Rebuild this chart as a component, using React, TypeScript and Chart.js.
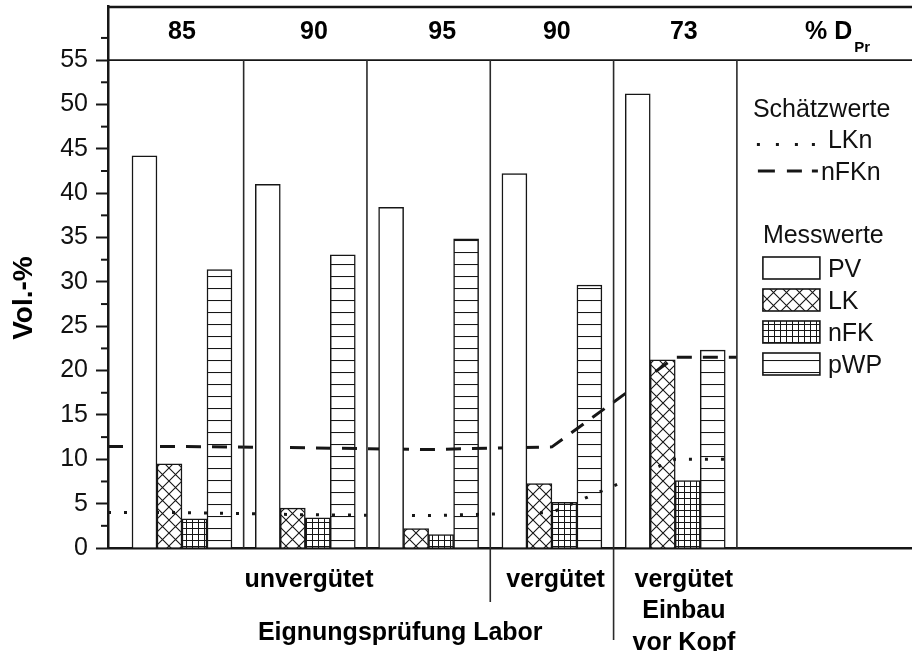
import React, { useEffect, useRef } from 'react';
import { Chart, registerables } from 'chart.js';

Chart.register(...registerables);

// ---------------- data ----------------
const groups = [1, 2, 3, 4, 5];
const headerLabels = ['85', '90', '95', '90', '73'];
const pvValues = [44.2, 41.0, 38.4, 42.2, 51.2];
const lkValues = [9.5, 4.5, 2.2, 7.25, 21.2];
const nfkValues = [3.3, 3.4, 1.5, 5.15, 7.6];
const pwpValues = [31.4, 33.05, 34.85, 29.65, 22.3];
const lineX = [0.4, 1, 2, 3, 4, 5, 5.5];
const lknValues = [4.0, 4.0, 3.75, 3.65, 4.0, 10.0, 10.0];
const nfknValues = [11.45, 11.45, 11.3, 11.1, 11.4, 21.5, 21.5];
const yTickLabels = [0, 5, 10, 15, 20, 25, 30, 35, 40, 45, 50, 55];
const separators = [1.5, 2.5, 3.5, 4.5, 5.5];

// ---------------- layout ----------------
const W = 912;
const H = 651;
const FONT = '"Liberation Sans", Arial, sans-serif';
const headerPos = [1.0, 2.07, 3.11, 4.04, 5.07];
const X_MIN = 0.4;
const X_MAX = 6.92;
const Y_MAX = 61.1;
const INK = '#161616';

function makePatterns() {
  const mk = (w: number, h: number, draw: (c: CanvasRenderingContext2D) => void) => {
    const cv = document.createElement('canvas');
    cv.width = w;
    cv.height = h;
    const c = cv.getContext('2d')!;
    c.fillStyle = '#fff';
    c.fillRect(0, 0, w, h);
    c.strokeStyle = INK;
    draw(c);
    return c.createPattern(cv, 'repeat')!;
  };
  const cross = mk(13, 13, (c) => {
    c.lineWidth = 1.1;
    c.beginPath();
    c.moveTo(-1, -1); c.lineTo(14, 14);
    c.moveTo(-1, 14); c.lineTo(14, -1);
    c.stroke();
  });
  const grid = mk(6, 6, (c) => {
    c.lineWidth = 1;
    c.beginPath();
    c.moveTo(0.5, 0); c.lineTo(0.5, 6);
    c.moveTo(0, 0.5); c.lineTo(6, 0.5);
    c.stroke();
  });
  const horiz = mk(12, 12, (c) => {
    c.lineWidth = 1.1;
    c.beginPath();
    c.moveTo(0, 0.5); c.lineTo(12, 0.5);
    c.stroke();
  });
  return { cross, grid, horiz };
}

export default function App() {
  const ref = useRef<HTMLCanvasElement | null>(null);

  useEffect(() => {
    if (!ref.current) return;
    const pats = makePatterns();

    const decor = {
      id: 'decor',
      afterDraw(chart: any) {
        const { ctx, chartArea: ca, scales } = chart;
        const xs = scales.x;
        const ys = scales.y;
        const X = (v: number) => xs.getPixelForValue(v);
        const Y = (v: number) => ys.getPixelForValue(v);
        const seg = (x1: number, y1: number, x2: number, y2: number) => {
          ctx.beginPath();
          ctx.moveTo(x1, y1);
          ctx.lineTo(x2, y2);
          ctx.stroke();
        };
        ctx.save();
        ctx.strokeStyle = INK;
        // top frame
        ctx.lineWidth = 2.5;
        seg(ca.left - 1, ca.top + 1, ca.right, ca.top + 1);
        // header line
        ctx.lineWidth = 1.6;
        seg(ca.left, Y(55), ca.right, Y(55));
        // separators
        ctx.strokeStyle = '#2a2a2a';
        ctx.lineWidth = 1.6;
        separators.forEach((s) => seg(X(s), Y(55), X(s), Y(0)));
        seg(X(3.5), Y(0), X(3.5), Y(0) + 54);
        seg(X(4.5), Y(0), X(4.5), Y(0) + 92);
        // minor ticks
        ctx.strokeStyle = INK;
        ctx.lineWidth = 2;
        for (let v = 2.5; v < 60; v += 5) seg(ca.left - 7, Y(v), ca.left, Y(v));

        // header labels
        ctx.fillStyle = '#000';
        ctx.textAlign = 'center';
        ctx.textBaseline = 'alphabetic';
        ctx.font = `bold 25px ${FONT}`;
        const hb = Y(55) - 21;
        headerLabels.forEach((t, i) => ctx.fillText(t, X(headerPos[i]), hb));
        ctx.textAlign = 'left';
        ctx.fillText('% D', 805, hb);
        const dw = ctx.measureText('% D').width;
        ctx.font = `bold 15px ${FONT}`;
        ctx.fillText('Pr', 805 + dw + 2, hb + 13);

        // bottom labels
        const b0 = Y(0);
        ctx.textAlign = 'center';
        ctx.font = `bold 25px ${FONT}`;
        ctx.fillText('unvergütet', X(2.03), b0 + 39);
        ctx.fillText('vergütet', X(4.03), b0 + 39);
        ctx.fillText('vergütet', X(5.07), b0 + 39);
        ctx.fillText('Einbau', X(5.07), b0 + 70);
        ctx.fillText('vor Kopf', X(5.07), b0 + 102);
        ctx.fillText('Eignungsprüfung Labor', X(2.77), b0 + 92);

        // y title
        ctx.save();
        ctx.translate(24, 298);
        ctx.rotate(-Math.PI / 2);
        ctx.textAlign = 'center';
        ctx.textBaseline = 'middle';
        ctx.font = `bold 28px ${FONT}`;
        ctx.fillText('Vol.-%', 0, 0);
        ctx.restore();

        // legend
        const lx = X(5.5) + 16;
        ctx.textAlign = 'left';
        ctx.textBaseline = 'alphabetic';
        ctx.font = `25px ${FONT}`;
        ctx.fillStyle = '#111';
        ctx.fillText('Schätzwerte', lx, 117);
        ctx.fillText('LKn', lx + 75, 148);
        ctx.fillText('nFKn', lx + 68, 180);
        // dotted sample
        ctx.fillStyle = INK;
        [0, 19, 38, 55].forEach((d) => ctx.fillRect(lx + 4 + d, 143, 3, 3));
        // dashed sample
        ctx.lineWidth = 3;
        seg(lx + 5, 171, lx + 22, 171);
        seg(lx + 34, 171, lx + 49, 171);
        seg(lx + 59, 171, lx + 65, 171);

        ctx.fillStyle = '#111';
        ctx.fillText('Messwerte', lx + 10, 243);
        const boxes: [string, any][] = [
          ['PV', '#fff'],
          ['LK', pats.cross],
          ['nFK', pats.grid],
          ['pWP', pats.horiz],
        ];
        boxes.forEach(([name, fill], i) => {
          const by = 257 + i * 32;
          ctx.fillStyle = fill;
          ctx.fillRect(lx + 10, by, 57, 22);
          ctx.lineWidth = 1.6;
          ctx.strokeStyle = INK;
          ctx.strokeRect(lx + 10, by, 57, 22);
          ctx.fillStyle = '#111';
          ctx.fillText(name, lx + 75, by + 20);
        });
        ctx.restore();
      },
    };

    const barCommon = {
      type: 'bar' as const,
      borderColor: INK,
      borderWidth: 1.5,
      barThickness: 25,
    };
    const pts = (vals: number[], xsArr: number[]) => vals.map((v, i) => ({ x: xsArr[i], y: v }));

    const chart = new Chart(ref.current, {
      type: 'bar',
      data: {
        datasets: [
          { ...barCommon, label: 'PV', data: pts(pvValues, groups), backgroundColor: '#fff', order: 0 },
          { ...barCommon, label: 'LK', data: pts(lkValues, groups), backgroundColor: pats.cross, order: 2 },
          { ...barCommon, label: 'nFK', data: pts(nfkValues, groups), backgroundColor: pats.grid, order: 2 },
          { ...barCommon, label: 'pWP', data: pts(pwpValues, groups), backgroundColor: pats.horiz, order: 2 },
          {
            type: 'line', label: 'LKn', data: pts(lknValues, lineX), borderColor: INK, borderWidth: 3,
            borderDash: [3, 13], pointRadius: 0, tension: 0, order: 1, fill: false,
          },
          {
            type: 'line', label: 'nFKn', data: pts(nfknValues, lineX), borderColor: INK, borderWidth: 3,
            borderDash: [15, 11], pointRadius: 0, tension: 0, order: 1, fill: false,
          },
        ] as any,
      },
      options: {
        animation: false,
        responsive: false,
        devicePixelRatio: 1,
        events: [],
        layout: { padding: { top: 6, left: 0, right: 0, bottom: 0 } },
        plugins: { legend: { display: false }, tooltip: { enabled: false } },
        scales: {
          x: {
            type: 'linear',
            min: X_MIN,
            max: X_MAX,
            offset: false,
            grid: { display: false },
            ticks: { display: false },
            border: { display: true, color: INK, width: 2.5 },
            afterFit: (s: any) => {
              s.height = H - 548;
              s.paddingLeft = 0;
              s.paddingRight = 0;
            },
          },
          y: {
            type: 'linear',
            min: 0,
            max: Y_MAX,
            grid: {
              display: true,
              drawOnChartArea: false,
              drawTicks: true,
              tickLength: 12,
              tickWidth: 2,
              tickColor: (c: any) => {
                const v = c.tick ? c.tick.value : -1;
                return yTickLabels.includes(v) ? INK : 'rgba(0,0,0,0)';
              },
            },
            border: { display: true, color: INK, width: 2.5 },
            ticks: {
              stepSize: 2.5,
              autoSkip: false,
              padding: 8,
              color: '#111',
              font: { family: FONT, size: 25 },
              callback: (v: any) => (yTickLabels.includes(Number(v)) ? String(v) : ''),
            },
            afterFit: (s: any) => {
              s.width = 108;
              s.paddingTop = 0;
              s.paddingBottom = 0;
            },
          },
        },
      } as any,
      plugins: [decor],
    });
    return () => chart.destroy();
  }, []);

  return (
    <div style={{ position: 'fixed', left: 0, top: 0, width: W, height: H, background: '#fff' }}>
      <canvas ref={ref} width={W} height={H} style={{ width: W, height: H, display: 'block' }} />
    </div>
  );
}
